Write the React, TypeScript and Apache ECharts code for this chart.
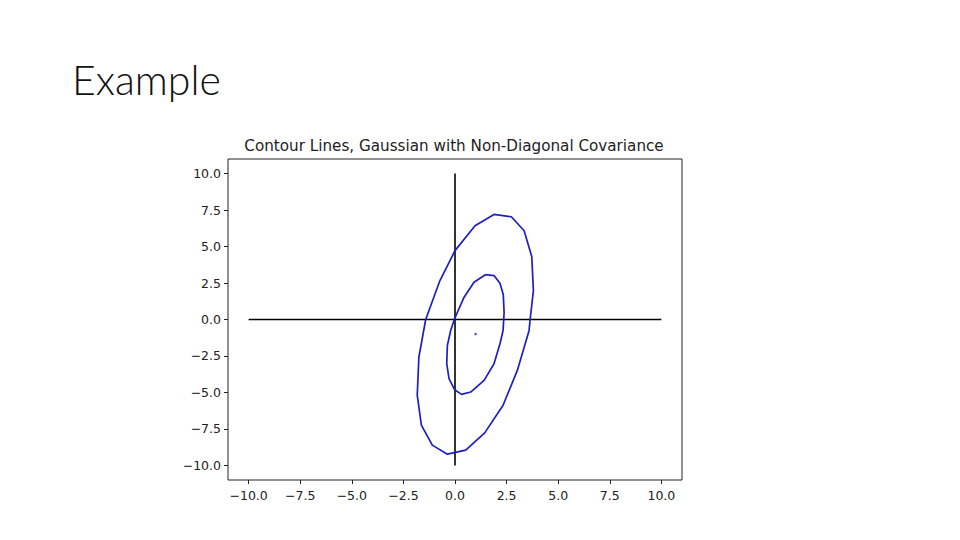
import React, { useEffect, useRef } from "react";
import * as echarts from "echarts";

const chartTitle = "Contour Lines, Gaussian with Non-Diagonal Covariance";
const slideTitle = "Example";

const tickValues = [-10, -7.5, -5, -2.5, 0, 2.5, 5, 7.5, 10];

const outerContour: [number, number][] = [
  [1.89, 7.2], [2.73, 7.04], [3.35, 6.08], [3.72, 4.31], [3.8, 1.98],
  [3.64, 0], [3.59, -0.75], [3.02, -3.49], [2.33, -5.88], [1.44, -7.77],
  [0.52, -8.95], [-0.37, -9.23], [-1.1, -8.61], [-1.63, -7.24], [-1.83, -5.19],
  [-1.75, -2.57], [-1.42, 0], [-0.73, 2.67], [0, 4.72], [0.97, 6.42], [1.89, 7.2],
];

const innerContour: [number, number][] = [
  [1.49, 3.08], [1.89, 3.01], [2.18, 2.48], [2.34, 1.69], [2.38, 0.5],
  [2.33, -0.75], [2.18, -1.66], [1.89, -3.03], [1.41, -4.17], [0.76, -4.97],
  [0.32, -5.13], [-0.02, -4.81], [-0.29, -4.05], [-0.4, -3.03], [-0.37, -1.78],
  [-0.21, -0.75], [-0.02, 0.05], [0.44, 1.53], [0.92, 2.55], [1.49, 3.08],
];

const meanPoint: [number, number][] = [[1, -1]];

const horizontalAxisLine: [number, number][] = [[-10, 0], [10, 0]];
const verticalAxisLine: [number, number][] = [[0, -10], [0, 10]];

const fmt = (v: number) => {
  const s = Math.abs(v).toFixed(1);
  return v < 0 ? "\u2212" + s : s;
};

export default function App() {
  const ref = useRef<HTMLDivElement>(null);
  useEffect(() => {
    if (!ref.current) return;
    const chart = echarts.init(ref.current, undefined, { renderer: "svg" });
    const contourColor = "#1f1fbf";
    const labelStyle = {
      color: "#222",
      fontFamily: "DejaVu Sans",
      fontSize: 12.5,
    };
    chart.setOption({
      animation: false,
      backgroundColor: "#fff",
      title: [
        {
          text: chartTitle,
          left: 449,
          top: 133,
          textAlign: "center",
          textStyle: {
            fontFamily: "DejaVu Sans",
            fontSize: 15.2,
            fontWeight: "normal",
            color: "#222",
          },
        },
        {
          text: slideTitle,
          left: 67,
          top: 54,
          textStyle: {
            fontFamily: "Lato",
            fontSize: 41,
            fontWeight: 300,
            color: "#111",
          },
        },
      ],
      grid: {
        left: 228,
        top: 159,
        width: 454,
        height: 321,
        show: true,
        borderColor: "#222",
        borderWidth: 1,
        backgroundColor: "transparent",
      },
      xAxis: {
        type: "value",
        min: -11,
        max: 11,
        splitLine: { show: false },
        axisLine: { show: false, onZero: false },
        axisTick: {
          show: true,
          length: 4,
          inside: false,
          customValues: tickValues,
          lineStyle: { color: "#222", width: 1 },
        },
        axisLabel: {
          ...labelStyle,
          margin: 9,
          customValues: tickValues,
          formatter: (v: number) => fmt(v),
        },
      },
      yAxis: {
        type: "value",
        min: -11,
        max: 11,
        splitLine: { show: false },
        axisLine: { show: false, onZero: false },
        axisTick: {
          show: true,
          length: 4,
          inside: false,
          customValues: tickValues,
          lineStyle: { color: "#222", width: 1 },
        },
        axisLabel: {
          ...labelStyle,
          margin: 7,
          customValues: tickValues,
          formatter: (v: number) => fmt(v),
        },
      },
      series: [
        {
          type: "line",
          data: horizontalAxisLine,
          showSymbol: false,
          lineStyle: { color: "#000", width: 1.6 },
          silent: true,
        },
        {
          type: "line",
          data: verticalAxisLine,
          showSymbol: false,
          lineStyle: { color: "#000", width: 1.6 },
          silent: true,
        },
        {
          type: "line",
          data: outerContour,
          showSymbol: false,
          lineStyle: { color: contourColor, width: 1.7 },
          silent: true,
        },
        {
          type: "line",
          data: innerContour,
          showSymbol: false,
          lineStyle: { color: contourColor, width: 1.7 },
          silent: true,
        },
        {
          type: "scatter",
          data: meanPoint,
          symbolSize: 2.5,
          itemStyle: { color: contourColor },
          silent: true,
        },
      ],
    });
    return () => chart.dispose();
  }, []);
  return (
    <div
      ref={ref}
      style={{ position: "fixed", left: 0, top: 0, width: 960, height: 540, background: "#fff" }}
    />
  );
}
